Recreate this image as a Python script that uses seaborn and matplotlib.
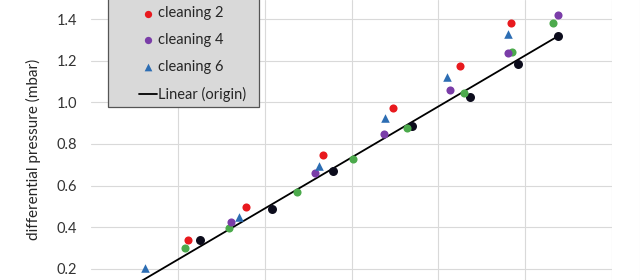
import matplotlib
matplotlib.use("Agg")
import matplotlib.pyplot as plt
from matplotlib.patches import Rectangle
from matplotlib.lines import Line2D
import numpy as np
import pandas as pd
import seaborn as sns

# ---- data ----
origin_x = [1.25, 2.09, 2.79, 3.70, 4.37, 4.92, 5.38]
origin_y = [0.339, 0.488, 0.670, 0.886, 1.026, 1.184, 1.318]

clean1_x = [1.08, 1.59, 2.37, 3.02, 3.64, 4.29, 4.85, 5.32]
clean1_y = [0.300, 0.397, 0.569, 0.730, 0.877, 1.045, 1.242, 1.381]

clean2_x = [1.115, 1.79, 2.67, 3.48, 4.25, 4.84, 5.40]
clean2_y = [0.339, 0.497, 0.747, 0.973, 1.174, 1.381, 1.56]

clean4_x = [1.61, 2.58, 3.37, 4.13, 4.80, 5.38]
clean4_y = [0.425, 0.661, 0.848, 1.059, 1.237, 1.419]

clean6_x = [0.62, 1.70, 2.63, 3.39, 4.10, 4.80, 5.40]
clean6_y = [0.205, 0.450, 0.695, 0.925, 1.121, 1.328, 1.525]

trend_slope = 0.245
trend_x = [0.0, 5.38]

series_names = ["origin", "cleaning 1", "cleaning 2", "cleaning 4", "cleaning 6"]
series_colors = ["#0c0c1c", "#4caa4c", "#e8191e", "#7a3da8", "#2c6db3"]
series_markers = ["o", "o", "o", "o", "^"]
series_x = [origin_x, clean1_x, clean2_x, clean4_x, clean6_x]
series_y = [origin_y, clean1_y, clean2_y, clean4_y, clean6_y]
marker_sizes = [42, 34, 34, 34, 38]
legend_shown = ["cleaning 2", "cleaning 4", "cleaning 6", "Linear (origin)"]

ytick_vals = [0.2, 0.4, 0.6, 0.8, 1.0, 1.2, 1.4]
ytick_labels = ["0.2", "0.4", "0.6", "0.8", "1.0", "1.2", "1.4"]

# ---- plotting ----
sns.set_theme(style="whitegrid")
plt.rcParams["font.family"] = ["Lato", "DejaVu Sans"]

W, H = 640, 280
fig = plt.figure(figsize=(W / 100, H / 100), dpi=100)
fig.patch.set_facecolor("white")
ax = fig.add_axes([91 / W, 0, (612 - 91) / W, 1])
ax.set_facecolor("white")

trend_df = pd.DataFrame({"x": trend_x, "y": [trend_slope * v for v in trend_x]})
sns.lineplot(data=trend_df, x="x", y="y", ax=ax, color="black", linewidth=1.3,
             label="Linear (origin)", zorder=2)

for name, col, mk, xs, ys, ms in zip(series_names, series_colors, series_markers,
                                     series_x, series_y, marker_sizes):
    df = pd.DataFrame({"x": xs, "y": ys})
    sns.scatterplot(data=df, x="x", y="y", ax=ax, color=col, marker=mk, s=ms,
                    linewidth=0, label=name, zorder=3)

ax.set_xlim(0, 6)
ax.set_ylim(1.4 - 261 / 208.3, 1.4 + 19 / 208.3)
ax.set_xticks([1, 2, 3, 4, 5, 6])
ax.set_xticklabels([])
ax.set_yticks(ytick_vals)
ax.set_yticklabels(ytick_labels)
ax.tick_params(axis="y", length=0, pad=10, labelsize=10.5, labelcolor="#333333")
ax.tick_params(axis="x", length=0)
ax.grid(True, color="#d9d9d9", linewidth=0.8)
for s in ax.spines.values():
    s.set_visible(False)
ax.set_xlabel("")
ax.set_ylabel("")

fig.text(33 / W, 1 - 149 / H, "differential pressure (mbar)", rotation=90,
         ha="center", va="center", fontsize=11, color="#262626")

# legend box (grey) and legend entries
handles, labels = ax.get_legend_handles_labels()
if ax.get_legend():
    ax.get_legend().remove()
fig.add_artist(Rectangle((108 / W, 1 - 107 / H), (259 - 108) / W, 200 / H,
                         transform=fig.transFigure, facecolor="#d9d9d9",
                         edgecolor="#555555", linewidth=0.9, zorder=5))
order = [labels.index(n) for n in legend_shown]
leg = fig.legend([handles[i] for i in order], [labels[i] for i in order],
                 loc="lower left", bbox_to_anchor=(139 / W, 1 - 102 / H),
                 bbox_transform=fig.transFigure, frameon=False, borderpad=0,
                 borderaxespad=0, handlelength=1.2, handletextpad=0.1,
                 labelspacing=0.88, fontsize=10.5, markerscale=0.9)
leg.set_zorder(6)
for t in leg.get_texts():
    t.set_color("#262626")

fig.add_artist(Line2D([639.5 / W, 639.5 / W], [0, 1], transform=fig.transFigure,
                      color="#dddddd", linewidth=0.8))

fig.savefig("out.png", dpi=100)
